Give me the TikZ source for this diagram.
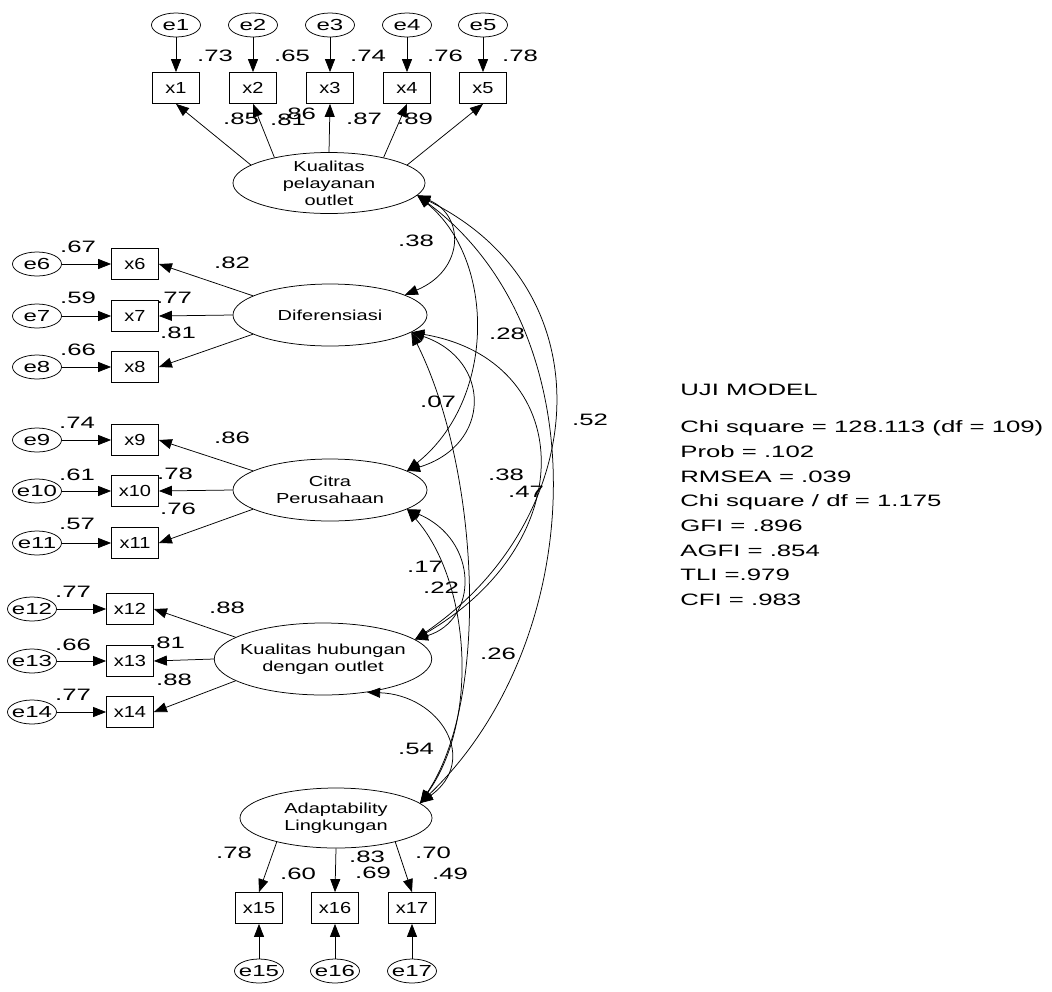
\documentclass[tikz,border=0pt]{standalone}
\usepackage{fontspec}
\setmainfont{Liberation Sans}
\newfontfamily\coeffont{Liberation Sans}[FakeStretch=1.56]
\newfontfamily\errfont{Liberation Sans}[FakeStretch=1.5]
\newfontfamily\obsfont{Liberation Sans}[FakeStretch=1.25]
\newfontfamily\latfont{Liberation Sans}[FakeStretch=1.38]
\usetikzlibrary{shapes.geometric,arrows.meta}

\begin{document}
\begin{tikzpicture}[x=1pt, y=-1pt, line width=0.75pt,
  >={Triangle[length=13pt,width=10pt]},
  lat/.style={ellipse, draw, inner sep=-6pt, minimum width=192pt, minimum height=61pt,
              align=center, font=\latfont\fontsize{14.5}{17}\selectfont},
  obs/.style={rectangle, draw, inner sep=0pt, minimum width=47pt, minimum height=31pt,
              font=\obsfont\fontsize{16}{18}\selectfont},
  err/.style={ellipse, draw, inner sep=-6pt, minimum width=49pt, minimum height=24pt,
              font=\errfont\fontsize{16}{18}\selectfont},
  coef/.style={inner sep=0pt, font=\coeffont\fontsize{16.5}{18}\selectfont},
  load/.style={->},
  cov/.style={<->},
]
  \useasboundingbox (0,0) rectangle (1052,991);

  % latent variables
  \node[lat] (kpo) at (329,183) {Kualitas\\pelayanan\\outlet};
  \node[lat, minimum width=194pt, minimum height=62pt] (dif) at (330,315) {Diferensiasi};
  \node[lat, minimum width=194pt, minimum height=62pt] (cit) at (330,490) {Citra\\Perusahaan};
  \node[lat, minimum width=190pt, minimum height=72pt] (kho) at (323,659) {Kualitas hubungan\\dengan outlet};
  \node[lat, minimum height=60pt] (adl) at (336,818) {Adaptability\\Lingkungan};

  % indicators and errors, top
  \node[obs] (x1) at (176,88) {x1};
  \node[obs] (x2) at (253,88) {x2};
  \node[obs] (x3) at (330,88) {x3};
  \node[obs] (x4) at (407,88) {x4};
  \node[obs] (x5) at (483,88) {x5};
  \node[err] (e1) at (176,25) {e1};
  \node[err] (e2) at (253,25) {e2};
  \node[err] (e3) at (330,25) {e3};
  \node[err] (e4) at (407,25) {e4};
  \node[err] (e5) at (483,25) {e5};

  % indicators and errors, left
  \node[obs] (x6) at (135,264) {x6};
  \node[obs] (x7) at (135,316) {x7};
  \node[obs] (x8) at (135,367) {x8};
  \node[err] (e6) at (37,264) {e6};
  \node[err] (e7) at (37,316) {e7};
  \node[err] (e8) at (37,367) {e8};
  \node[obs] (x9) at (135,440) {x9};
  \node[obs] (x10) at (135,491) {x10};
  \node[obs] (x11) at (135,543) {x11};
  \node[err] (e9) at (37,440) {e9};
  \node[err] (e10) at (37,491) {e10};
  \node[err] (e11) at (37,543) {e11};
  \node[obs] (x12) at (130,609) {x12};
  \node[obs] (x13) at (130,661) {x13};
  \node[obs] (x14) at (130,712) {x14};
  \node[err] (e12) at (32,609) {e12};
  \node[err] (e13) at (32,661) {e13};
  \node[err] (e14) at (32,712) {e14};

  % indicators and errors, bottom
  \node[obs] (x15) at (259,908) {x15};
  \node[obs] (x16) at (335,908) {x16};
  \node[obs] (x17) at (412,908) {x17};
  \node[err] (e15) at (259,971) {e15};
  \node[err] (e16) at (335,971) {e16};
  \node[err] (e17) at (412,971) {e17};

  % error paths
  \draw[load] (e1) -- (x1);
  \draw[load] (e2) -- (x2);
  \draw[load] (e3) -- (x3);
  \draw[load] (e4) -- (x4);
  \draw[load] (e5) -- (x5);
  \draw[load] (e6) -- (x6);
  \draw[load] (e7) -- (x7);
  \draw[load] (e8) -- (x8);
  \draw[load] (e9) -- (x9);
  \draw[load] (e10) -- (x10);
  \draw[load] (e11) -- (x11);
  \draw[load] (e12) -- (x12);
  \draw[load] (e13) -- (x13);
  \draw[load] (e14) -- (x14);
  \draw[load] (e15) -- (x15);
  \draw[load] (e16) -- (x16);
  \draw[load] (e17) -- (x17);

  % loadings
  \draw[load] (kpo.167) -- (x1.south);
  \draw[load] (kpo.155) -- (x2.south);
  \draw[load] (kpo.north) -- (x3.south);
  \draw[load] (kpo.25) -- (x4.south);
  \draw[load] (kpo.13) -- (x5.south);
  \draw[load] (dif.166) -- (x6.east);
  \draw[load] (dif.west) -- (x7.east);
  \draw[load] (dif.194) -- (x8.east);
  \draw[load] (cit.166) -- (x9.east);
  \draw[load] (cit.west) -- (x10.east);
  \draw[load] (cit.194) -- (x11.east);
  \draw[load] (kho.166) -- (x12.east);
  \draw[load] (kho.west) -- (x13.east);
  \draw[load] (kho.194) -- (x14.east);
  \draw[load] (adl.202) -- (x15.north);
  \draw[load] (adl.south) -- (x16.north);
  \draw[load] (adl.338) -- (x17.north);

  % covariances
  \draw[cov] (kpo.-8) .. controls (465,215) and (465,270) .. (dif.15);
  \draw[cov] (kpo.-8) .. controls (496,260) and (496,400) .. (cit.14);
  \draw[cov] (kpo.-8) .. controls (610,290) and (590,520) .. (kho.12);
  \draw[cov] (kpo.-8) .. controls (600,330) and (590,640) .. (adl.10);
  \draw[cov] (dif.-12) .. controls (492,360) and (492,445) .. (cit.14);
  \draw[cov] (dif.-12) .. controls (575,360) and (585,540) .. (kho.12);
  \draw[cov] (dif.-12) .. controls (480,470) and (490,700) .. (adl.10);
  \draw[cov] (cit.-14) .. controls (479,540) and (479,620) .. (kho.12);
  \draw[cov] (cit.-14) .. controls (470,580) and (480,720) .. (adl.10);
  \draw[cov] (kho.-37) .. controls (440,695) and (480,760) .. (adl.10);

  % squared multiple correlations
  \node[coef] (sq1) at (215,56) {.73};
  \node[coef] (sq2) at (292,56) {.65};
  \node[coef] (sq3) at (368,56) {.74};
  \node[coef] (sq4) at (445,56) {.76};
  \node[coef] (sq5) at (520,56) {.78};
  \node[coef] (sq6) at (78,247) {.67};
  \node[coef] (sq7) at (78,298) {.59};
  \node[coef] (sq8) at (78,350) {.66};
  \node[coef] (sq9) at (77,423) {.74};
  \node[coef] (sq10) at (77,475) {.61};
  \node[coef] (sq11) at (77,524) {.57};
  \node[coef] (sq12) at (73,592) {.77};
  \node[coef] (sq13) at (73,645) {.66};
  \node[coef] (sq14) at (73,695) {.77};
  \node[coef] (sq15) at (298,874) {.60};
  \node[coef] (sq16) at (373,873) {.69};
  \node[coef] (sq17) at (450,874) {.49};

  % loading estimates
  \node[coef] (ld1) at (241,119) {.85};
  \node[coef] (ld2) at (288,120) {.81};
  \node[coef] (ld3) at (298,114) {.86};
  \node[coef] (ld4) at (364,119) {.87};
  \node[coef] (ld5) at (415,119) {.89};
  \node[coef] (ld6) at (232,263) {.82};
  \node[coef] (ld7) at (174,298) {.77};
  \node[coef] (ld8) at (178,333) {.81};
  \node[coef] (ld9) at (232,438) {.86};
  \node[coef] (ld10) at (175,474) {.78};
  \node[coef] (ld11) at (178,509) {.76};
  \node[coef] (ld12) at (227,608) {.88};
  \node[coef] (ld13) at (167,643) {.81};
  \node[coef] (ld14) at (174,680) {.88};
  \node[coef] (ld15) at (234,853) {.78};
  \node[coef] (ld16) at (367,857) {.83};
  \node[coef] (ld17) at (433,853) {.70};

  % correlations
  \node[coef] (cv1) at (416,241) {.38};
  \node[coef] (cv2) at (507,334) {.28};
  \node[coef] (cv3) at (590,420) {.52};
  \node[coef] (cv4) at (438,402) {.07};
  \node[coef] (cv5) at (506,475) {.38};
  \node[coef] (cv6) at (526,492) {.47};
  \node[coef] (cv7) at (425,567) {.17};
  \node[coef] (cv8) at (441,588) {.22};
  \node[coef] (cv9) at (498,654) {.26};
  \node[coef] (cv10) at (416,749) {.54};

  % model fit
  \node[coef, anchor=base west] (fit0) at (680,395) {UJI MODEL};
  \node[coef, anchor=base west] (fit1) at (680,432.7) {Chi square = 128.113 (df = 109)};
  \node[coef, anchor=base west] (fit2) at (680,457.4) {Prob = .102};
  \node[coef, anchor=base west] (fit3) at (680,482.1) {RMSEA = .039};
  \node[coef, anchor=base west] (fit4) at (680,506.8) {Chi square / df = 1.175};
  \node[coef, anchor=base west] (fit5) at (680,531.5) {GFI = .896};
  \node[coef, anchor=base west] (fit6) at (680,556.2) {AGFI = .854};
  \node[coef, anchor=base west] (fit7) at (680,580.9) {TLI =.979};
  \node[coef, anchor=base west] (fit8) at (680,605.6) {CFI = .983};
\end{tikzpicture}
\end{document}
